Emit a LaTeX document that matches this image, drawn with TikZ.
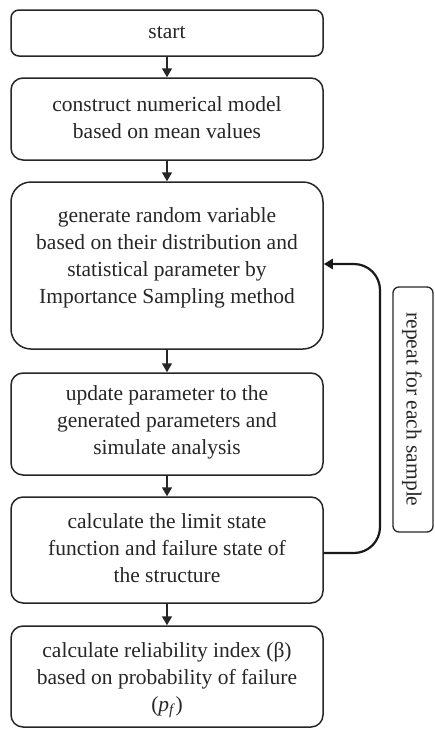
\documentclass[tikz,border=0pt]{standalone}
\usepackage{fontspec}
\setmainfont{Liberation Serif}
\usetikzlibrary{arrows.meta}
\begin{document}
\begin{tikzpicture}[x=1pt,y=-1pt,
  box/.style={draw=black!85,line width=1.5pt,minimum width=312pt,inner sep=0pt},
  txt/.style={align=center,font=\fontsize{21.5}{27}\selectfont,text=black!85,inner sep=0pt},
  arr/.style={line width=1.5pt,draw=black!85,-{Triangle[length=9pt,width=10pt]}},
  loop/.style={line width=2.2pt,draw=black!90,-{Triangle[length=9pt,width=10pt]},rounded corners=26pt}]
\useasboundingbox (0,0) rectangle (435,729);
\node[box,rounded corners=8pt,minimum height=46pt] (b1) at (167,33) {};
\node[box,rounded corners=12pt,minimum height=82pt] (b2) at (167,119) {};
\node[box,rounded corners=20pt,minimum height=167pt] (b3) at (167,265.5) {};
\node[box,rounded corners=12pt,minimum height=102pt] (b4) at (167,424) {};
\node[box,rounded corners=12pt,minimum height=106pt] (b5) at (167,550) {};
\node[box,rounded corners=12pt,minimum height=101pt] (b6) at (167,676.5) {};
\node[txt] (t1) at (167,33) {start};
\node[txt] (t2) at (167,118) {construct numerical model\\based on mean values};
\node[txt] (t3) at (167,258) {generate random variable\\based on their distribution and\\statistical parameter by\\Importance Sampling method};
\node[txt] (t4) at (167,422) {update parameter to the\\generated parameters and\\simulate analysis};
\node[txt] (t5) at (167,548) {calculate the limit state\\function and failure state of\\the structure};
\node[txt] (t6) at (167,680) {calculate reliability index (β)\\based on probability of failure\\(\textit{p}\textsubscript{\textit{f}})};
\draw[arr] (b1.south) -- (b2.north);
\draw[arr] (b2.south) -- (b3.north);
\draw[arr] (b3.south) -- (b4.north);
\draw[arr] (b4.south) -- (b5.north);
\draw[arr] (b5.south) -- (b6.north);
\coordinate (c1) at (380,553);
\coordinate (c2) at (380,264);
\draw[loop] (b5.east |- c1) -- (c1) -- (c2) -- (b3.east |- c2);
\node[draw=black!85,line width=1.3pt,rounded corners=6pt,minimum width=40pt,minimum height=245pt,inner sep=0pt] (rep) at (413,409.5) {};
\node[txt,rotate=-90] (rt) at (412,409.5) {repeat for each sample};
\end{tikzpicture}
\end{document}
